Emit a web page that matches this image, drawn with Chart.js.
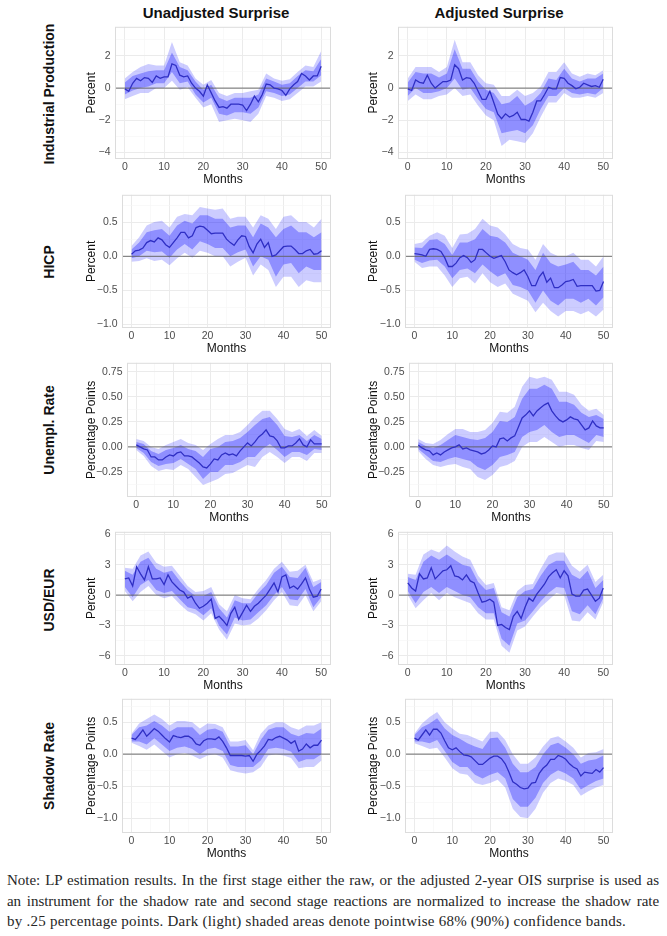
<!DOCTYPE html>
<html>
<head>
<meta charset="utf-8">
<script src="https://cdn.jsdelivr.net/npm/chart.js@4.4.1/dist/chart.umd.min.js"></script>
<style>
  body { margin: 0; background: #fff; width: 667px; height: 936px; position: relative; overflow: hidden;
         font-family: "Liberation Sans", Arial, sans-serif; }
  canvas { position: absolute; }
  .coltitle { position: absolute; top: 4px; font-weight: bold; font-size: 15px; line-height: 17px;
              transform: translateX(-50%); white-space: nowrap; color: #111; }
  .rowlabel { position: absolute; left: 49px; font-weight: bold; font-size: 14px; white-space: nowrap;
              transform: translate(-50%, -50%) rotate(-90deg); color: #111; }
  .note { position: absolute; left: 7px; top: 870px; width: 652px; font-family: "Liberation Serif", serif;
          font-size: 15px; line-height: 20.5px; color: #262626; }
  .note div { white-space: nowrap; text-align: justify; text-align-last: justify; }
  .note div.last { text-align-last: left; }
</style>
</head>
<body>
<div class="coltitle" style="left:216px">Unadjusted Surprise</div>
<div class="coltitle" style="left:499px">Adjusted Surprise</div>

<div class="rowlabel" style="top:94px">Industrial Production</div>
<div class="rowlabel" style="top:262px">HICP</div>
<div class="rowlabel" style="top:430px">Unempl. Rate</div>
<div class="rowlabel" style="top:600px">USD/EUR</div>
<div class="rowlabel" style="top:766px">Shadow Rate</div>

<canvas id="ipU"></canvas><canvas id="ipA"></canvas>
<canvas id="hicpU"></canvas><canvas id="hicpA"></canvas>
<canvas id="urU"></canvas><canvas id="urA"></canvas>
<canvas id="fxU"></canvas><canvas id="fxA"></canvas>
<canvas id="srU"></canvas><canvas id="srA"></canvas>

<div class="note">
  <div><span>Note: LP estimation results. In the first stage either the raw, or the adjusted 2-year OIS surprise is used as</span></div>
  <div><span>an instrument for the shadow rate and second stage reactions are normalized to increase the shadow rate</span></div>
  <div class="last"><span>by .25 percentage points. Dark (light) shaded areas denote pointwise 68% (90%) confidence bands.</span></div>
</div>

<script>
// horizons
const months = [...Array(51).keys()];
const bandMonths = months.filter(m => m % 2 === 0);
const xTicks = [0, 10, 20, 30, 40, 50];

// y tick labels and axis limits per row
const ipTicks = [-4, -2, 0, 2];
const hicpTicks = [-1, -0.5, 0, 0.5];
const urTicks = [-0.25, 0, 0.25, 0.5, 0.75];
const fxTicks = [-6, -3, 0, 3, 6];
const srTicks = [-1, -0.5, 0, 0.5];
const ipRange = [-4.4, 3.8];
const hicpRange = [-1.05, 0.9];
const urRange = [-0.5, 0.84];
const fxRange = [-6.9, 6.25];
const srRange = [-1.23, 0.865];

// Industrial production
const ipU_mid = [-0.05,-0.2,0.3,0.6,0.45,0.65,0.6,0.35,0.75,0.6, 0.7,0.7,1.5,1.4,0.8,0.7,0.75,0.3,0.0,-0.2,
  -0.5,0.2,-0.3,-0.8,-1.2,-1.15,-1.25,-1.0,-1.0,-1.0, -1.05,-1.4,-1.0,-0.5,-0.85,-0.4,0.25,0.2,0.0,-0.05,
  -0.15,-0.45,-0.05,0.2,0.4,0.9,0.75,0.5,0.75,0.75,1.35];
const ipU_lo68 = [-0.4,-0.15,0.0,0.1,0.3,0.3,1.0,0.3,0.4,-0.4,-0.9,-0.6,-1.6,-1.7,-1.5,-1.5,-1.6,-1.2,-0.2,-0.3,-0.5,-0.4,0.0,0.4,0.4,0.8];
const ipU_hi68 = [0.35,0.75,0.9,1.05,1.1,1.1,2.2,1.3,1.1,0.4,-0.1,0.2,-0.6,-0.8,-0.6,-0.6,-0.6,-0.4,0.6,0.4,0.2,0.3,0.75,1.1,1.05,1.8];
const ipU_lo90 = [-0.7,-0.5,-0.3,-0.3,0.0,0.0,0.45,-0.1,0.05,-0.6,-1.2,-1.0,-2.1,-2.0,-1.9,-2.0,-2.1,-1.6,-0.5,-0.6,-0.8,-0.7,-0.3,0.1,0.1,0.4];
const ipU_hi90 = [0.6,1.0,1.3,1.5,1.4,1.4,2.85,1.6,1.4,0.6,0.2,0.5,-0.3,-0.5,-0.3,-0.3,-0.2,-0.1,0.9,0.6,0.45,0.55,1.0,1.4,1.3,2.3];

const ipA_mid = [-0.05,-0.15,0.5,0.35,0.3,0.8,0.3,0.0,0.2,0.4, 0.4,0.5,1.45,1.2,0.5,0.65,0.6,0.3,-0.2,-0.7,
  -0.7,-0.2,-0.9,-1.6,-1.9,-1.6,-1.8,-1.7,-1.5,-1.95, -1.95,-2.05,-1.5,-0.8,-0.8,-0.4,0.05,-0.05,-0.05,0.65,
  0.6,0.3,0.15,-0.05,0.05,0.3,0.2,0.1,0.15,0.05,0.55];
const ipA_lo68 = [-0.5,0.0,-0.3,-0.3,-0.2,0.0,0.6,-0.1,0.0,-0.7,-1.3,-1.5,-2.8,-2.7,-2.6,-2.8,-2.3,-1.3,-0.5,-0.5,0.0,-0.3,-0.4,-0.3,-0.4,0.0];
const ipA_hi68 = [0.35,1.0,0.9,0.9,0.65,0.9,2.4,1.2,1.2,0.4,-0.1,-0.3,-1.0,-0.9,-0.5,-1.1,-0.8,-0.3,0.6,0.5,1.2,0.6,0.4,0.6,0.6,0.9];
const ipA_lo90 = [-0.8,-0.4,-0.7,-0.7,-0.5,-0.4,0.0,-0.5,-0.4,-1.1,-1.7,-2.0,-3.6,-3.2,-3.3,-3.4,-2.8,-1.8,-0.9,-0.9,-0.3,-0.6,-0.6,-0.5,-0.6,-0.3];
const ipA_hi90 = [0.6,1.3,1.3,1.3,1.0,1.3,3.0,1.6,1.6,0.8,0.3,0.2,-0.5,-0.5,-0.1,-0.5,-0.3,0.1,1.0,1.0,1.6,0.9,0.7,0.9,0.8,1.1];

// HICP
const hicpU_mid = [0.03,0.08,0.09,0.12,0.2,0.23,0.21,0.27,0.24,0.17, 0.13,0.2,0.27,0.35,0.35,0.27,0.3,0.42,0.44,0.43,
  0.38,0.33,0.34,0.34,0.34,0.25,0.2,0.16,0.24,0.3, 0.29,0.14,0.05,0.18,0.25,0.13,0.2,0.0,0.02,0.08,
  0.14,0.15,0.15,0.1,0.04,0.04,0.08,0.1,0.03,0.04,0.08];
const hicpU_lo68 = [-0.03,0.0,0.08,0.06,0.07,-0.02,0.1,0.18,0.1,0.22,0.18,0.12,0.12,0.0,0.06,0.1,-0.15,0.0,-0.05,-0.3,-0.12,-0.1,-0.25,-0.15,-0.2,-0.2];
const hicpU_hi68 = [0.1,0.2,0.35,0.38,0.4,0.3,0.45,0.52,0.48,0.6,0.6,0.55,0.55,0.42,0.45,0.45,0.28,0.48,0.42,0.28,0.4,0.45,0.35,0.35,0.28,0.35];
const hicpU_lo90 = [-0.08,-0.07,-0.03,-0.07,-0.05,-0.13,-0.03,0.05,-0.02,0.08,0.05,0.0,0.0,-0.15,-0.08,-0.02,-0.28,-0.12,-0.2,-0.45,-0.3,-0.3,-0.45,-0.35,-0.38,-0.38];
const hicpU_hi90 = [0.15,0.28,0.45,0.5,0.52,0.42,0.58,0.62,0.6,0.72,0.7,0.68,0.7,0.55,0.58,0.58,0.42,0.6,0.55,0.4,0.58,0.6,0.5,0.5,0.42,0.55];

const hicpA_mid = [0.04,0.03,0.02,0.0,0.1,0.11,0.1,0.07,-0.02,-0.15, -0.15,-0.1,-0.02,0.01,-0.02,-0.09,-0.05,0.1,0.1,0.05,
  0.0,-0.03,-0.01,0.01,-0.08,-0.2,-0.24,-0.27,-0.24,-0.2, -0.3,-0.43,-0.43,-0.3,-0.23,-0.38,-0.32,-0.46,-0.46,-0.42,
  -0.37,-0.36,-0.34,-0.44,-0.43,-0.43,-0.43,-0.43,-0.51,-0.5,-0.37];
const hicpA_lo68 = [-0.05,-0.1,-0.06,-0.05,-0.15,-0.32,-0.2,-0.18,-0.25,-0.12,-0.22,-0.3,-0.25,-0.42,-0.45,-0.5,-0.68,-0.5,-0.65,-0.72,-0.62,-0.62,-0.68,-0.62,-0.72,-0.6];
const hicpA_hi68 = [0.13,0.12,0.24,0.25,0.18,0.02,0.2,0.2,0.25,0.4,0.3,0.28,0.2,0.05,0.0,-0.05,-0.2,0.05,-0.1,-0.15,-0.12,-0.08,-0.2,-0.2,-0.28,-0.15];
const hicpA_lo90 = [-0.08,-0.17,-0.15,-0.15,-0.28,-0.45,-0.32,-0.3,-0.4,-0.25,-0.38,-0.45,-0.4,-0.55,-0.6,-0.65,-0.82,-0.68,-0.8,-0.88,-0.8,-0.8,-0.85,-0.8,-0.88,-0.78];
const hicpA_hi90 = [0.18,0.2,0.3,0.35,0.3,0.12,0.32,0.33,0.4,0.55,0.45,0.42,0.32,0.18,0.12,0.1,-0.05,0.18,0.05,0.0,0.0,0.05,-0.05,-0.05,-0.15,0.0];

// Unemployment rate
const urU_mid = [0.02,0.0,-0.02,-0.03,-0.1,-0.1,-0.13,-0.13,-0.1,-0.08, -0.09,-0.06,-0.05,-0.09,-0.09,-0.1,-0.13,-0.16,-0.2,-0.21,
  -0.17,-0.12,-0.13,-0.08,-0.06,-0.08,-0.07,-0.09,-0.04,0.0, 0.04,0.01,0.05,0.1,0.13,0.17,0.11,0.1,0.06,-0.01,
  -0.01,0.01,0.01,0.04,0.08,0.02,0.0,0.07,0.03,0.03,0.03];
const urU_lo68 = [-0.01,-0.06,-0.15,-0.19,-0.17,-0.16,-0.12,-0.17,-0.22,-0.32,-0.25,-0.25,-0.18,-0.18,-0.15,-0.1,-0.1,-0.02,0.03,-0.03,-0.1,-0.05,-0.05,-0.08,-0.02,-0.03];
const urU_hi68 = [0.05,0.03,-0.04,-0.07,-0.03,-0.01,0.02,-0.02,-0.04,-0.1,-0.02,0.0,0.05,0.06,0.09,0.15,0.22,0.28,0.3,0.22,0.11,0.1,0.12,0.06,0.12,0.08];
const urU_lo90 = [-0.03,-0.09,-0.19,-0.24,-0.22,-0.23,-0.18,-0.22,-0.3,-0.38,-0.35,-0.32,-0.27,-0.26,-0.22,-0.18,-0.2,-0.1,-0.05,-0.1,-0.16,-0.1,-0.1,-0.14,-0.06,-0.06];
const urU_hi90 = [0.08,0.06,0.0,-0.02,0.02,0.05,0.08,0.04,0.02,-0.03,0.03,0.08,0.12,0.12,0.15,0.22,0.3,0.36,0.36,0.28,0.18,0.15,0.18,0.11,0.17,0.11];

const urA_mid = [0.02,-0.01,-0.03,-0.04,-0.08,-0.06,-0.08,-0.05,-0.03,-0.01, 0.0,0.02,-0.02,-0.01,-0.03,-0.04,-0.05,-0.07,-0.06,-0.03,
  0.01,0.0,0.08,0.09,0.06,0.09,0.11,0.2,0.29,0.32, 0.36,0.31,0.36,0.39,0.42,0.44,0.36,0.31,0.27,0.25,
  0.27,0.3,0.28,0.27,0.22,0.17,0.19,0.26,0.21,0.19,0.19];
const urA_lo68 = [-0.02,-0.08,-0.14,-0.15,-0.12,-0.1,-0.12,-0.14,-0.2,-0.23,-0.18,-0.1,-0.08,-0.05,0.1,0.15,0.17,0.22,0.15,0.1,0.12,0.12,0.08,0.04,0.12,0.1];
const urA_hi68 = [0.05,0.01,-0.01,0.02,0.07,0.12,0.1,0.08,0.07,0.09,0.15,0.26,0.25,0.3,0.48,0.58,0.58,0.62,0.58,0.45,0.45,0.42,0.34,0.3,0.32,0.28];
const urA_lo90 = [-0.04,-0.12,-0.18,-0.2,-0.18,-0.17,-0.2,-0.22,-0.3,-0.33,-0.28,-0.2,-0.18,-0.14,0.0,0.05,0.05,0.1,0.05,0.0,0.02,0.02,-0.01,-0.03,0.06,0.05];
const urA_hi90 = [0.08,0.04,0.03,0.07,0.13,0.18,0.18,0.15,0.15,0.17,0.24,0.35,0.34,0.4,0.6,0.7,0.68,0.7,0.67,0.55,0.55,0.52,0.42,0.36,0.38,0.32];

// USD/EUR
const fxU_mid = [1.6,1.7,0.9,2.8,2.1,1.5,2.8,1.6,1.6,1.7, 1.05,2.0,1.3,0.9,0.5,0.3,-0.3,-0.1,-0.8,-1.3,
  -1.1,-0.8,-0.4,-2.3,-2.1,-2.5,-3.0,-1.8,-1.2,-2.4, -1.7,-1.0,-1.6,-1.1,-0.8,-0.4,0.0,0.6,1.2,0.3,
  1.8,2.0,0.7,0.9,0.6,1.1,1.7,0.6,-0.2,-0.1,0.6];
const fxU_lo68 = [0.8,-0.2,1.0,1.5,0.5,0.2,0.4,-0.4,-1.2,-1.4,-2.0,-1.3,-3.0,-3.9,-2.2,-2.5,-2.4,-1.7,-1.0,0.0,0.8,-0.4,-0.5,0.6,-1.2,-0.2];
const fxU_hi68 = [2.4,2.0,3.3,3.7,2.6,2.2,2.4,1.4,0.5,-0.1,-0.1,0.3,-1.3,-2.2,-0.5,-0.8,-0.8,0.2,1.0,2.2,2.8,1.8,1.7,2.7,0.8,1.3];
const fxU_lo90 = [0.4,-0.6,0.3,0.9,0.0,-0.3,-0.1,-0.9,-1.6,-1.9,-2.5,-1.8,-3.4,-4.4,-2.8,-3.0,-2.9,-2.3,-1.5,-0.5,0.3,-1.0,-1.1,0.0,-1.6,-0.6];
const fxU_hi90 = [2.7,2.6,3.9,4.3,3.2,2.8,2.9,1.9,0.9,0.3,0.4,0.8,-0.9,-1.6,0.0,-0.3,-0.4,0.6,1.5,2.6,3.3,2.3,2.4,3.0,1.3,1.6];

const fxA_mid = [1.2,0.7,0.4,2.1,1.6,1.7,2.7,1.6,2.0,2.4, 2.5,2.9,1.9,1.8,1.5,2.0,1.4,1.2,0.2,-0.7,
  -0.6,-0.4,-0.7,-3.0,-2.9,-3.2,-3.4,-2.1,-1.6,-2.3, -1.2,-0.3,-0.6,0.1,0.6,1.1,1.8,2.2,2.5,1.7,
  2.4,1.9,0.1,-0.1,-0.1,0.5,0.6,0.0,-0.6,-0.3,0.7];
const fxA_lo68 = [0.4,-0.8,0.3,0.8,0.2,0.8,0.4,0.0,-0.2,-1.2,-1.8,-1.8,-4.3,-5.0,-2.8,-2.5,-1.6,-0.6,0.2,0.8,0.7,-1.6,-1.9,-1.0,-1.9,-0.3];
const fxA_hi68 = [1.8,1.5,3.3,3.9,3.5,4.0,3.5,3.0,2.8,1.3,0.5,0.7,-1.7,-2.1,-0.2,0.4,0.6,1.9,3.0,3.4,3.4,2.0,1.6,2.4,0.7,1.5];
const fxA_lo90 = [0.0,-1.3,-0.5,0.2,-0.5,0.2,-0.2,-0.5,-0.8,-1.8,-2.4,-2.4,-5.0,-5.7,-3.5,-3.1,-2.1,-1.2,-0.5,0.2,0.0,-2.5,-2.6,-1.7,-2.4,-0.7];
const fxA_hi90 = [2.1,2.0,4.0,4.5,4.2,4.9,4.3,3.8,3.5,1.9,1.0,1.2,-1.2,-1.5,0.4,1.0,1.1,2.6,3.9,4.2,4.2,2.9,2.3,3.0,1.3,2.0];

// Shadow rate
const srU_mid = [0.25,0.23,0.3,0.38,0.28,0.34,0.4,0.36,0.3,0.24, 0.19,0.29,0.27,0.26,0.28,0.28,0.24,0.16,0.14,0.21,
  0.24,0.24,0.23,0.27,0.2,0.1,-0.02,-0.02,-0.02,-0.02, -0.03,-0.02,-0.11,0.0,0.06,0.13,0.23,0.22,0.26,0.28,
  0.25,0.22,0.17,0.21,0.05,0.08,0.16,0.1,0.14,0.14,0.22];
const srU_lo68 = [0.2,0.2,0.15,0.25,0.15,0.05,0.1,0.12,0.08,0.0,0.08,0.1,0.05,-0.17,-0.2,-0.2,-0.2,-0.1,0.08,0.1,0.08,0.04,-0.12,-0.08,-0.08,0.0];
const srU_hi68 = [0.3,0.42,0.45,0.52,0.45,0.35,0.42,0.42,0.42,0.3,0.38,0.4,0.35,0.12,0.12,0.14,0.0,0.22,0.38,0.42,0.42,0.32,0.28,0.33,0.32,0.4];
const srU_lo90 = [0.18,0.13,0.07,0.15,0.05,-0.05,0.0,0.02,-0.02,-0.08,-0.02,0.0,-0.05,-0.25,-0.28,-0.3,-0.28,-0.2,-0.02,0.0,-0.02,-0.06,-0.22,-0.2,-0.2,-0.1];
const srU_hi90 = [0.32,0.48,0.55,0.62,0.55,0.45,0.52,0.52,0.5,0.4,0.48,0.47,0.42,0.2,0.2,0.22,0.06,0.32,0.45,0.5,0.5,0.42,0.38,0.45,0.45,0.5];

const srA_mid = [0.25,0.22,0.3,0.38,0.3,0.39,0.39,0.33,0.21,0.1, 0.07,0.1,0.04,-0.01,-0.02,-0.04,-0.1,-0.16,-0.16,-0.11,
  -0.06,-0.03,-0.03,-0.07,-0.15,-0.28,-0.43,-0.47,-0.52,-0.54, -0.53,-0.45,-0.44,-0.3,-0.22,-0.17,-0.08,-0.08,-0.02,-0.04,
  -0.08,-0.15,-0.2,-0.23,-0.34,-0.28,-0.29,-0.3,-0.24,-0.28,-0.21];
const srA_lo68 = [0.2,0.2,0.17,0.22,0.05,-0.12,-0.2,-0.2,-0.32,-0.38,-0.32,-0.28,-0.38,-0.7,-0.82,-0.82,-0.68,-0.45,-0.32,-0.25,-0.3,-0.38,-0.55,-0.48,-0.42,-0.38];
const srA_hi68 = [0.3,0.42,0.48,0.56,0.4,0.3,0.24,0.17,0.12,0.08,0.25,0.26,0.1,-0.15,-0.28,-0.28,-0.2,0.0,0.14,0.18,0.1,0.0,-0.15,-0.1,-0.08,-0.02];
const srA_lo90 = [0.17,0.13,0.08,0.1,-0.05,-0.22,-0.3,-0.32,-0.45,-0.48,-0.45,-0.4,-0.52,-0.85,-0.98,-1.0,-0.85,-0.6,-0.45,-0.38,-0.42,-0.48,-0.65,-0.58,-0.52,-0.48];
const srA_hi90 = [0.32,0.48,0.58,0.66,0.5,0.4,0.32,0.3,0.25,0.2,0.35,0.35,0.22,0.0,-0.15,-0.15,-0.05,0.12,0.25,0.28,0.2,0.1,-0.05,0.02,0.03,0.08];

// page layout (pixels)
const cols = [{ canvasLeft: 84, plotRight: 331 }, { canvasLeft: 366, plotRight: 613 }];
const rows = [
  { top: 26, bottom: 159, plotLeft: [115, 398] },
  { top: 194, bottom: 328, plotLeft: [122, 405] },
  { top: 362, bottom: 497, plotLeft: [127, 409] },
  { top: 531, bottom: 665, plotLeft: [115, 398] },
  { top: 698, bottom: 833, plotLeft: [122, 405] },
];
const PAD_TOP = 10, PAD_RIGHT = 4, XAXIS_H = 28;

const tickFont = { family: "Liberation Sans", size: 10.5 };
const titleFont = { family: "Liberation Sans", size: 12 };

function withMinor(major, min, max) {
  const step = major[1] - major[0];
  const out = [];
  for (let v = major[0] - step / 2; v <= max + 1e-9; v += step / 2) {
    if (v >= min - 1e-9) out.push(+v.toFixed(4));
  }
  return out;
}
const isMajor = (list, v) => list.some(m => Math.abs(m - v) < 1e-6);
const fmt = (v, dec) => (v < 0 ? "\u2212" : "") + Math.abs(v).toFixed(dec);

const panelDeco = {
  id: "panelDeco",
  beforeDatasetDraw(chart, args) {
    if (args.index !== 0) return;
    const { ctx, chartArea: a, scales } = chart;
    const y = scales.y.getPixelForValue(0);
    ctx.save();
    ctx.strokeStyle = "rgba(100,100,100,0.75)";
    ctx.lineWidth = 1.2;
    ctx.beginPath();
    ctx.moveTo(a.left, y);
    ctx.lineTo(a.right, y);
    ctx.stroke();
    ctx.restore();
  },
  afterDatasetsDraw(chart) {
    const { ctx, chartArea: a } = chart;
    ctx.save();
    ctx.strokeStyle = "#dcdcdc";
    ctx.lineWidth = 1;
    ctx.strokeRect(a.left + 0.5, a.top + 0.5, a.right - a.left - 1, a.bottom - a.top - 1);
    ctx.restore();
  },
};

function panel(id, r, c, yTitle, yTicks, range, dec, mid, lo68, hi68, lo90, hi90) {
  const row = rows[r], col = cols[c];
  const canvas = document.getElementById(id);
  const w = col.plotRight + PAD_RIGHT - col.canvasLeft;
  const h = PAD_TOP + (row.bottom - row.top) + XAXIS_H;
  canvas.width = w; canvas.height = h;
  canvas.style.left = col.canvasLeft + "px";
  canvas.style.top = (row.top - PAD_TOP) + "px";
  canvas.style.width = w + "px"; canvas.style.height = h + "px";
  const yAxisW = row.plotLeft[c] - col.canvasLeft;

  const xAll = withMinor(xTicks, -2.5, 52.5);
  const yAll = withMinor(yTicks, range[0], range[1]);
  const pts = (xs, ys) => ys.map((v, i) => ({ x: xs[i], y: v }));
  const band = (data, fill, color) => ({
    data, fill, backgroundColor: color, borderWidth: 0, borderColor: "transparent",
    pointRadius: 0, tension: 0,
  });

  new Chart(canvas, {
    type: "line",
    data: {
      datasets: [
        { data: pts(months, mid), borderColor: "#2f2fc4", borderWidth: 1.3, pointRadius: 0, fill: false, tension: 0 },
        band(pts(bandMonths, hi68), "+1", "rgba(0,0,255,0.3)"),
        band(pts(bandMonths, lo68), false, "transparent"),
        band(pts(bandMonths, hi90), "+1", "rgba(0,0,255,0.2)"),
        band(pts(bandMonths, lo90), false, "transparent"),
      ],
    },
    options: {
      responsive: false,
      animation: false,
      devicePixelRatio: 1,
      layout: { padding: { top: PAD_TOP, right: PAD_RIGHT, bottom: 0, left: 0 } },
      plugins: { legend: { display: false }, tooltip: { enabled: false } },
      scales: {
        x: {
          type: "linear", min: -2.5, max: 52.5,
          afterBuildTicks: s => { s.ticks = xAll.map(v => ({ value: v })); },
          afterFit: s => { s.height = XAXIS_H; },
          ticks: {
            autoSkip: false, maxRotation: 0, padding: 1.5, color: "#4d4d4d", font: tickFont,
            callback: v => (isMajor(xTicks, v) ? String(v) : ""),
          },
          grid: {
            drawTicks: false,
            color: ctx => (isMajor(xTicks, ctx.tick.value) ? "#ebebeb" : "#f5f5f5"),
            lineWidth: ctx => (isMajor(xTicks, ctx.tick.value) ? 1 : 0.6),
          },
          border: { display: false },
          title: { display: true, text: "Months", color: "#111", font: titleFont, padding: 0 },
        },
        y: {
          type: "linear", min: range[0], max: range[1],
          afterBuildTicks: s => { s.ticks = yAll.map(v => ({ value: v })); },
          afterFit: s => { s.width = yAxisW; },
          ticks: {
            autoSkip: false, padding: 4.5, color: "#4d4d4d", font: tickFont,
            callback: v => (isMajor(yTicks, v) ? fmt(v, dec) : ""),
          },
          grid: {
            drawTicks: false,
            color: ctx => (isMajor(yTicks, ctx.tick.value) ? "#ebebeb" : "#f5f5f5"),
            lineWidth: ctx => (isMajor(yTicks, ctx.tick.value) ? 1 : 0.6),
          },
          border: { display: false },
          title: { display: true, text: yTitle, color: "#111", font: titleFont, padding: 0 },
        },
      },
    },
    plugins: [panelDeco],
  });
}

panel("ipU", 0, 0, "Percent", ipTicks, ipRange, 0, ipU_mid, ipU_lo68, ipU_hi68, ipU_lo90, ipU_hi90);
panel("ipA", 0, 1, "Percent", ipTicks, ipRange, 0, ipA_mid, ipA_lo68, ipA_hi68, ipA_lo90, ipA_hi90);
panel("hicpU", 1, 0, "Percent", hicpTicks, hicpRange, 1, hicpU_mid, hicpU_lo68, hicpU_hi68, hicpU_lo90, hicpU_hi90);
panel("hicpA", 1, 1, "Percent", hicpTicks, hicpRange, 1, hicpA_mid, hicpA_lo68, hicpA_hi68, hicpA_lo90, hicpA_hi90);
panel("urU", 2, 0, "Percentage Points", urTicks, urRange, 2, urU_mid, urU_lo68, urU_hi68, urU_lo90, urU_hi90);
panel("urA", 2, 1, "Percentage Points", urTicks, urRange, 2, urA_mid, urA_lo68, urA_hi68, urA_lo90, urA_hi90);
panel("fxU", 3, 0, "Percent", fxTicks, fxRange, 0, fxU_mid, fxU_lo68, fxU_hi68, fxU_lo90, fxU_hi90);
panel("fxA", 3, 1, "Percent", fxTicks, fxRange, 0, fxA_mid, fxA_lo68, fxA_hi68, fxA_lo90, fxA_hi90);
panel("srU", 4, 0, "Percentage Points", srTicks, srRange, 1, srU_mid, srU_lo68, srU_hi68, srU_lo90, srU_hi90);
panel("srA", 4, 1, "Percentage Points", srTicks, srRange, 1, srA_mid, srA_lo68, srA_hi68, srA_lo90, srA_hi90);

// fit the note lines: last line to ~619px, full lines justified to the box
const noteLines = [...document.querySelectorAll(".note span")];
const lastSpan = noteLines[2];
const lastW = lastSpan.getBoundingClientRect().width;
const spacing = (619 - lastW) / lastSpan.textContent.length;
noteLines.forEach((s, i) => {
  let ls = spacing;
  if (i < 2) {
    const nat = s.getBoundingClientRect().width;
    ls = Math.min(spacing, (648 - nat) / s.textContent.length);
  }
  s.parentElement.style.letterSpacing = ls.toFixed(3) + "px";
});
</script>
</body>
</html>
